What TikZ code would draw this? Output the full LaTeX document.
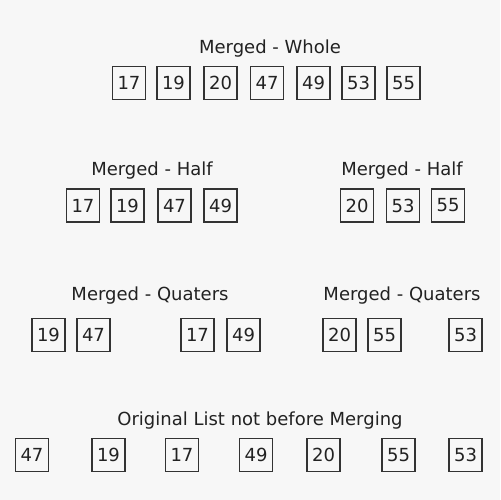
\documentclass[tikz,border=0pt]{standalone}
\usepackage{fontspec}
\setmainfont{DejaVu Sans}
\definecolor{bg}{HTML}{F7F7F7}
\definecolor{ink}{HTML}{222222}
\definecolor{edge}{HTML}{333333}
\begin{document}
\begin{tikzpicture}[x=1bp,y=-1bp,
  cell/.style={draw=edge,line width=1.1bp,minimum width=33bp,minimum height=33bp,inner sep=0pt,text=ink,font=\fontsize{18bp}{21bp}\selectfont},
  title/.style={text=ink,inner sep=0pt,font=\fontsize{18bp}{21bp}\selectfont}]
\fill[bg] (0,0) rectangle (500,500);
\useasboundingbox (0,0) rectangle (500,500);
% top
\node[title] (tw) at (270,48.5) {Merged - Whole};
\foreach \n/\x/\v in {1/129/17,2/173.5/19,3/220.5/20,4/267/47,5/313.5/49,6/358.5/53,7/403.5/55}
  \node[cell] (w\n) at (\x,83) {\v};
% halves
\node[title] (thl) at (152,170.5) {Merged - Half};
\foreach \n/\x/\v in {1/83/17,2/127.5/19,3/174.5/47,4/220.5/49}
  \node[cell] (hl\n) at (\x,205.5) {\v};
\node[title] (thr) at (402,170.5) {Merged - Half};
\foreach \n/\x/\v in {1/357/20,2/403/53,3/448/55}
  \node[cell] (hr\n) at (\x,205.5) {\v};
% quarters
\node[title] (tql) at (150,295.5) {Merged - Quaters};
\foreach \n/\x/\v in {1/48.5/19,2/93.5/47,3/197.5/17,4/243.5/49}
  \node[cell] (ql\n) at (\x,335) {\v};
\node[title] (tqr) at (402,295.5) {Merged - Quaters};
\foreach \n/\x/\v in {1/339.5/20,2/384.5/55,3/465.5/53}
  \node[cell] (qr\n) at (\x,335) {\v};
% original
\node[title] (to) at (260,420.5) {Original List not before Merging};
\foreach \n/\x/\v in {1/32/47,2/108.5/19,3/182/17,4/256/49,5/323.5/20,6/398.5/55,7/465.5/53}
  \node[cell] (o\n) at (\x,455) {\v};
\end{tikzpicture}
\end{document}
